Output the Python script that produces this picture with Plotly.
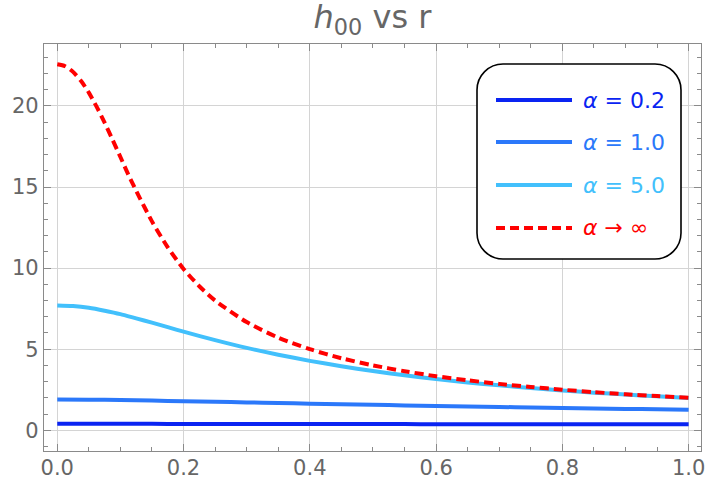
import plotly.graph_objects as go

# ---- data ----
r = [0.0, 0.05, 0.10, 0.15, 0.20, 0.25, 0.30, 0.35, 0.40, 0.45, 0.50,
     0.55, 0.60, 0.65, 0.70, 0.75, 0.80, 0.85, 0.90, 0.95, 1.00]
h_a02 = [0.396, 0.395, 0.395, 0.393, 0.391, 0.389, 0.387, 0.385, 0.384, 0.382, 0.380,
         0.378, 0.376, 0.374, 0.373, 0.371, 0.369, 0.367, 0.366, 0.364, 0.362]
h_a10 = [1.892, 1.884, 1.861, 1.830, 1.792, 1.754, 1.716, 1.677, 1.640, 1.604, 1.568,
         1.533, 1.499, 1.467, 1.435, 1.404, 1.374, 1.345, 1.317, 1.289, 1.262]
r_a50 = [0.0, 0.025, 0.05, 0.075, 0.10, 0.125, 0.15, 0.175, 0.20, 0.25, 0.30, 0.35,
         0.40, 0.45, 0.50, 0.55, 0.60, 0.65, 0.70, 0.75, 0.80, 0.85, 0.90, 0.95, 1.00]
h_a50 = [7.70, 7.66, 7.55, 7.37, 7.16, 6.90, 6.64, 6.36, 6.08, 5.56, 5.08, 4.66,
         4.28, 3.95, 3.65, 3.39, 3.16, 2.95, 2.77, 2.60, 2.45, 2.32, 2.20, 2.09, 1.99]
r_inf = [0.0, 0.0125, 0.025, 0.0375, 0.05, 0.0625, 0.075, 0.0875, 0.10, 0.1125,
         0.125, 0.15, 0.175, 0.20, 0.225, 0.25,
         0.30, 0.35, 0.40, 0.45, 0.50, 0.55, 0.60, 0.65, 0.70, 0.75, 0.80,
         0.85, 0.90, 0.95, 1.00]
h_inf = [22.57, 22.45, 22.10, 21.55, 20.82, 19.94, 18.97, 17.92, 16.85, 15.77,
         14.77, 12.88, 11.28, 9.95, 8.88, 8.00,
         6.67, 5.71, 5.00, 4.44, 4.00, 3.64, 3.33, 3.08, 2.86, 2.67, 2.50,
         2.35, 2.22, 2.11, 2.00]
labels = ["<i>α</i> = 0.2", "<i>α</i> = 1.0", "<i>α</i> = 5.0", "<i>α</i> → ∞"]
x_ticks = [0.0, 0.2, 0.4, 0.6, 0.8, 1.0]
x_ticktext = ["0.0", "0.2", "0.4", "0.6", "0.8", "1.0"]
y_ticks = [0, 5, 10, 15, 20]

colors = ["#0A24F2", "#2B78FA", "#42C0FC", "#FF0000"]
FONT = "DejaVu Sans"

fig = go.Figure()
series = [(r, h_a02), (r, h_a10), (r_a50, h_a50), (r_inf, h_inf)]
for i, (xs, ys) in enumerate(series):
    dash = "9px,5px" if i == 3 else "solid"
    fig.add_trace(go.Scatter(x=xs, y=ys, mode="lines", name=labels[i],
                             line=dict(color=colors[i], width=4, dash=dash,
                                       shape="spline", smoothing=0.7),
                             showlegend=False))

W, H = 706, 480
L, R, T, B = 44, 5, 44, 29
pw, ph = W - L - R, H - T - B

def px(x):
    return (x - L) / pw

def py(y):
    return (H - B - y) / ph

# rounded legend box
x0, x1, y0, y1, rad = 477, 681, 64, 259, 26
k = 0.4477 * rad
path = (f"M {px(x0+rad)},{py(y0)} L {px(x1-rad)},{py(y0)} "
        f"C {px(x1-rad+(rad-k))},{py(y0)} {px(x1)},{py(y0+rad-(rad-k))} {px(x1)},{py(y0+rad)} "
        f"L {px(x1)},{py(y1-rad)} "
        f"C {px(x1)},{py(y1-rad+(rad-k))} {px(x1-rad+(rad-k))},{py(y1)} {px(x1-rad)},{py(y1)} "
        f"L {px(x0+rad)},{py(y1)} "
        f"C {px(x0+rad-(rad-k))},{py(y1)} {px(x0)},{py(y1-rad+(rad-k))} {px(x0)},{py(y1-rad)} "
        f"L {px(x0)},{py(y0+rad)} "
        f"C {px(x0)},{py(y0+rad-(rad-k))} {px(x0+rad-(rad-k))},{py(y0)} {px(x0+rad)},{py(y0)} Z")
shapes = [dict(type="path", xref="paper", yref="paper", path=path,
               line=dict(color="black", width=1.6), fillcolor="white", layer="above")]
annotations = []
row_y = [100, 142, 185, 228]
for i, yy in enumerate(row_y):
    shapes.append(dict(type="line", xref="paper", yref="paper",
                       x0=px(496), x1=px(572), y0=py(yy), y1=py(yy),
                       line=dict(color=colors[i], width=4,
                                 dash="9px,5px" if i == 3 else "solid"),
                       layer="above"))
    annotations.append(dict(xref="paper", yref="paper", x=px(581), y=py(yy),
                            xanchor="left", yanchor="middle", showarrow=False,
                            text=labels[i], font=dict(family=FONT, size=22, color=colors[i])))

axis_common = dict(showline=True, linecolor="#8a8a8a", linewidth=1.2, mirror="allticks",
                   ticks="inside", ticklen=7, tickcolor="#8a8a8a", tickwidth=1,
                   showgrid=True, gridcolor="#d4d4d4", gridwidth=1, zeroline=False,
                   automargin=False, ticklabeloverflow="allow",
                   tickfont=dict(family=FONT, size=21, color="#666666"))

fig.update_layout(
    width=W, height=H, autosize=False,
    margin=dict(l=L, r=R, t=T, b=B),
    plot_bgcolor="white", paper_bgcolor="white",
    title=dict(text="<i>h</i><sub>00</sub> vs r", x=0.5, xref="paper",
               y=1 - 6 / H, yref="container", yanchor="top",
               font=dict(family=FONT, size=32, color="#666666"), automargin=False),
    xaxis=dict(range=[-0.021, 1.0196], tickvals=x_ticks, ticktext=x_ticktext,
               ticklabelstandoff=-2,
               minor=dict(dtick=0.05, tick0=0, ticks="inside", ticklen=4,
                          tickcolor="#8a8a8a", showgrid=False),
               **axis_common),
    yaxis=dict(range=[-1.28, 23.82], tickvals=y_ticks,
               minor=dict(dtick=1, tick0=0, ticks="inside", ticklen=4,
                          tickcolor="#8a8a8a", showgrid=False),
               **axis_common),
    shapes=shapes, annotations=annotations,
)

fig.write_html("out.html")
